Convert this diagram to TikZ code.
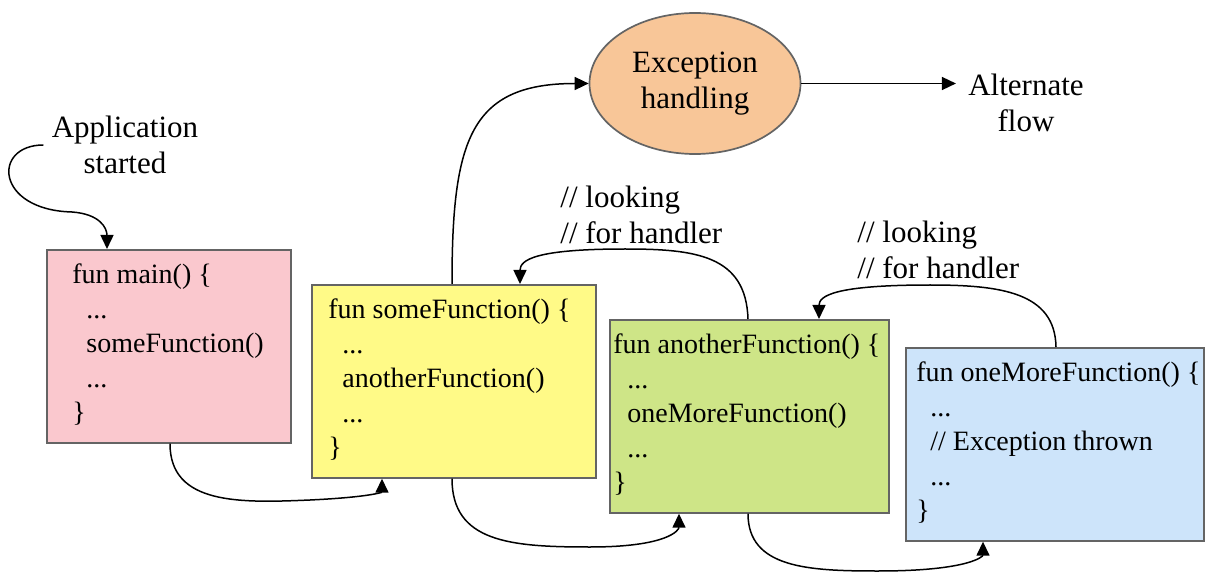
\documentclass[tikz,border=0pt]{standalone}
\usepackage{fontspec}
\setmainfont{Liberation Serif}
\usetikzlibrary{arrows.meta,shapes.geometric,calc}
\definecolor{pinkbox}{RGB}{250,200,206}
\definecolor{yellowbox}{RGB}{255,250,135}
\definecolor{greenbox}{RGB}{206,229,135}
\definecolor{bluebox}{RGB}{205,228,250}
\definecolor{orangeell}{RGB}{248,198,152}
\definecolor{bordergray}{RGB}{100,100,100}
\tikzset{
  fbox/.style={draw=bordergray, line width=0.85pt, rectangle, anchor=north west, inner sep=0pt},
  code/.style={anchor=west, align=left, inner sep=0pt, font=\fontsize{14}{17.25}\selectfont},
  lbl/.style={align=center, inner sep=1pt, font=\fontsize{15.5}{18}\selectfont},
  lbll/.style={align=left, anchor=west, inner sep=0pt, font=\fontsize{15.5}{18}\selectfont},
  arr/.style={line width=0.75pt, -{Triangle[length=7pt,width=6.5pt]}},
}
\newcommand{\ind}{\hspace*{7pt}}
\begin{document}
\begin{tikzpicture}[x=0.5pt,y=-0.5pt]
\useasboundingbox (0,0) rectangle (1205,572);
% boxes
\node[fbox, fill=pinkbox, minimum width=122pt, minimum height=96.5pt] (main) at (46,249) {};
\node[fbox, fill=yellowbox, minimum width=142pt, minimum height=96.5pt] (some) at (311,284) {};
\node[fbox, fill=greenbox, minimum width=139.5pt, minimum height=96.5pt] (another) at (609,319) {};
\node[fbox, fill=bluebox, minimum width=149pt, minimum height=96.5pt] (onemore) at (905,347) {};
% code texts
\node[code] (maintxt) at (72,345) {fun main() \{\\ \ind...\\ \ind someFunction()\\ \ind...\\ \}};
\node[code] (sometxt) at (328,380) {fun someFunction() \{\\ \ind...\\ \ind anotherFunction()\\ \ind...\\ \}};
\node[code] (anothertxt) at (613,415) {fun anotherFunction() \{\\ \ind...\\ \ind oneMoreFunction()\\ \ind...\\ \}};
\node[code] (onemoretxt) at (916,443) {fun oneMoreFunction() \{\\ \ind...\\ \ind // Exception thrown\\ \ind...\\ \}};
% ellipse
\node[ellipse, draw=bordergray, line width=0.85pt, fill=orangeell, minimum width=105.5pt, minimum height=70.5pt, inner sep=0pt, lbl] (exc) at (695,83.5) {Exception\\handling};
% labels
\node[lbl] (app) at (125,145) {Application\\started};
\node[lbl] (alt) at (1026,103) {Alternate\\flow};
\node[lbll] (look1) at (560,215) {// looking\\// for handler};
\node[lbll] (look2) at (857,250) {// looking\\// for handler};
% attachment coordinates
\coordinate (mainTop) at ($(main.north west)+(61,0)$);
\coordinate (mainBot) at ($(main.south west)+(124,0)$);
\coordinate (someBotIn) at ($(some.south west)+(71,0)$);
\coordinate (someBotOut) at ($(some.south west)+(141,0)$);
\coordinate (someTopOut) at ($(some.north west)+(141,0)$);
\coordinate (someTopIn) at ($(some.north west)+(209,0)$);
\coordinate (anTopOut) at ($(another.north west)+(139,0)$);
\coordinate (anTopIn) at ($(another.north west)+(210,0)$);
\coordinate (anBotIn) at ($(another.south west)+(70,0)$);
\coordinate (anBotOut) at ($(another.south west)+(139,0)$);
\coordinate (omTopOut) at ($(onemore.north west)+(151,0)$);
\coordinate (omBotIn) at ($(onemore.south west)+(78,0)$);
\coordinate (altW) at ($(alt.west |- exc.east)+(-10,0)$);
% connectors
\draw[arr] ([xshift=-3pt]app.west) .. controls (-8,145) and (-5,210) .. (72,212) .. controls (100,214) and (107,228) .. (mainTop);
\draw[arr] (mainBot) .. controls (170,505) and (240,503) .. (310,500) .. controls (372,497) and (382,492) .. (someBotIn);
\draw[arr] (someTopOut) .. controls (452,140) and (470,83.5) .. (exc.west);
\draw[arr] (exc.east) -- (altW);
\draw[arr] (anTopOut) .. controls (746,255) and (695,249) .. (625,249) .. controls (535,249) and (520,260) .. (someTopIn);
\draw[arr] (someBotOut) .. controls (452,542) and (510,547) .. (590,547) .. controls (668,547) and (679,530) .. (anBotIn);
\draw[arr] (omTopOut) .. controls (1055,292) and (1000,285) .. (930,285) .. controls (834,285) and (819,296) .. (anTopIn);
\draw[arr] (anBotOut) .. controls (748,568) and (808,571) .. (878,571) .. controls (970,571) and (983,556) .. (omBotIn);
\end{tikzpicture}
\end{document}
